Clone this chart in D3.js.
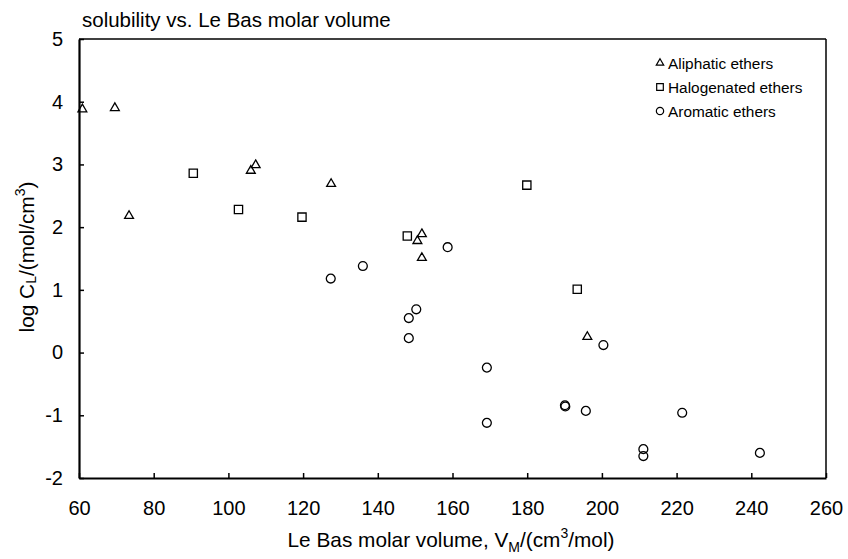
<!DOCTYPE html>
<html><head><meta charset="utf-8">
<script src="https://cdn.jsdelivr.net/npm/d3@7"></script>
<style>body{margin:0;background:#fff;} svg{display:block;font-family:"Liberation Sans",Arial,sans-serif;}</style>
</head><body>
<svg id="chart" width="848" height="559"></svg>
<script>
const seriesNames = ["Aliphatic ethers", "Halogenated ethers", "Aromatic ethers"];
const aliphaticX = [60.9, 69.6, 73.4, 106.0, 107.3, 127.5, 151.8, 150.6, 151.8, 196.1];
const aliphaticY = [3.88, 3.90, 2.18, 2.90, 2.99, 2.69, 1.89, 1.78, 1.51, 0.25];
const halogenatedX = [90.6, 102.7, 119.7, 147.9, 179.9, 193.4];
const halogenatedY = [2.86, 2.28, 2.16, 1.86, 2.67, 1.01];
const aromaticX = [127.4, 136.0, 158.7, 150.3, 148.3, 148.3, 169.2, 169.2, 190.1, 190.2, 195.7, 200.4, 221.5, 211.1, 211.1, 242.3];
const aromaticY = [1.18, 1.38, 1.68, 0.69, 0.55, 0.23, -0.24, -1.12, -0.84, -0.86, -0.93, 0.12, -0.96, -1.54, -1.65, -1.60];
const xTicks = [60, 80, 100, 120, 140, 160, 180, 200, 220, 240, 260];
const yTicks = [-2, -1, 0, 1, 2, 3, 4, 5];

const svg = d3.select("#chart");
const L = 79, R = 826, T = 39, B = 478;
const x = d3.scaleLinear().domain([60, 260]).range([L, R]);
const y = d3.scaleLinear().domain([-2, 5]).range([B, T]);

svg.append("line").attr("x1", L).attr("x2", R).attr("y1", T).attr("y2", T).attr("stroke", "#000").attr("stroke-width", 1.5);
svg.append("line").attr("x1", R).attr("x2", R).attr("y1", T).attr("y2", B).attr("stroke", "#000").attr("stroke-width", 1.5);

const gx = svg.append("g").attr("transform", `translate(0,${B})`)
  .call(d3.axisBottom(x).tickValues(xTicks).tickFormat(d => String(d)).tickSizeInner(-5).tickSizeOuter(0).tickPadding(22.8));
const gy = svg.append("g").attr("transform", `translate(${L},0)`)
  .call(d3.axisLeft(y).tickValues(yTicks).tickFormat(d => String(d)).tickSizeInner(-5).tickSizeOuter(0).tickPadding(16));
[gx, gy].forEach(g => {
  g.select(".domain").attr("stroke", "#000").attr("stroke-width", 2.2);
  g.selectAll(".tick line").attr("stroke", "#000").attr("stroke-width", 1.5);
  g.selectAll(".tick text").attr("fill", "#000").style("font-size", "20px").style("font-family", "Liberation Sans, Arial, sans-serif");
});

function drawSeries(xs, ys, type, size) {
  const sym = d3.symbol().type(type).size(size);
  svg.append("g").selectAll("path").data(xs.map((v, i) => [v, ys[i]])).join("path")
    .attr("d", sym)
    .attr("transform", d => `translate(${x(d[0])},${y(d[1])})`)
    .attr("fill", "none").attr("stroke", "#000").attr("stroke-width", 1.3);
}
drawSeries(aliphaticX, aliphaticY, d3.symbolTriangle, 34);
drawSeries(halogenatedX, halogenatedY, d3.symbolSquare, 68);
drawSeries(aromaticX, aromaticY, d3.symbolCircle, 62);

const legTypes = [[d3.symbolTriangle, 24], [d3.symbolSquare, 44], [d3.symbolCircle, 42]];
seriesNames.forEach((name, i) => {
  const ly = 63 + i * 24;
  svg.append("path").attr("d", d3.symbol().type(legTypes[i][0]).size(legTypes[i][1]))
    .attr("transform", `translate(660,${ly})`).attr("fill", "none").attr("stroke", "#000").attr("stroke-width", 1.2);
  svg.append("text").attr("x", 668).attr("y", ly + 5.5).text(name).style("font-size", "15.4px").attr("fill", "#000");
});

svg.append("text").attr("x", 82).attr("y", 27).text("solubility vs. Le Bas molar volume").style("font-size", "20.5px");

const xl = svg.append("text").attr("x", 451).attr("y", 547).attr("text-anchor", "middle").style("font-size", "20.8px");
xl.append("tspan").text("Le Bas molar volume, V");
xl.append("tspan").text("M").attr("dy", 5).style("font-size", "14px");
xl.append("tspan").text("/(cm").attr("dy", -5);
xl.append("tspan").text("3").attr("dy", -9).style("font-size", "14px");
xl.append("tspan").text("/mol)").attr("dy", 9);

const yl = svg.append("text").attr("transform", `translate(34,257) rotate(-90)`).attr("text-anchor", "middle").style("font-size", "20.8px");
yl.append("tspan").text("log C");
yl.append("tspan").text("L").attr("dy", 2).style("font-size", "14px");
yl.append("tspan").text("/(mol/cm").attr("dy", -2);
yl.append("tspan").text("3").attr("dy", -9).style("font-size", "14px");
yl.append("tspan").text(")").attr("dy", 9);
</script>
</body></html>
